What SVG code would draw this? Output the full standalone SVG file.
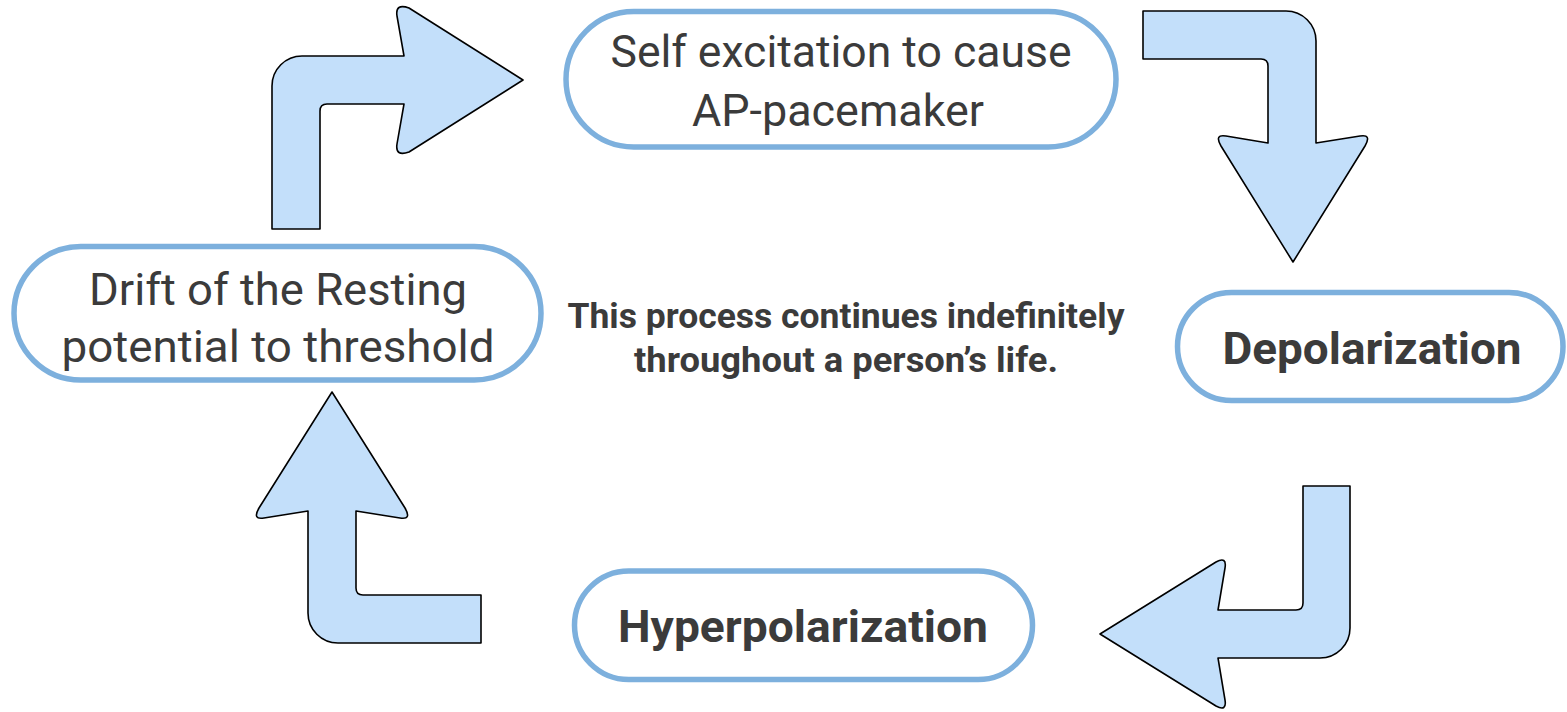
<svg xmlns="http://www.w3.org/2000/svg" width="1567" height="712" viewBox="0 0 1567 712">
<style>
.node{fill:#ffffff;stroke:#7db0dd;stroke-width:5.5}
.arrow{fill:#c3dffa;stroke:#000000;stroke-width:1.6;stroke-linejoin:round}
.lt{font-family:Roboto,"Liberation Sans",sans-serif;font-weight:400;font-size:44px;fill:#3b3b3b;text-anchor:middle}
.bd{font-family:Roboto,"Liberation Sans",sans-serif;font-weight:700;font-size:45px;fill:#3b3b3b;text-anchor:middle}
.ct{font-family:Roboto,"Liberation Sans",sans-serif;font-weight:700;font-size:35px;fill:#3b3b3b;text-anchor:middle}
</style>
<rect width="1567" height="712" fill="#ffffff"/>
<g id="connectors">
<path class="arrow" d="M272 229 L272 86 A30 30 0 0 1 302 56 L404 56 L397 16 Q395 3 409 8 L523 80 L409 152 Q395 157 397 144 L404 104 L327 104 Q320 104 320 111 L320 229 Z"/>
<path class="arrow" d="M1143 11 L1286 11 A30 30 0 0 1 1316 41 L1316 143 L1360 136 Q1372 134 1365 146 L1293 262 L1221 146 Q1214 134 1226 136 L1268 143 L1268 66 Q1268 59 1261 59 L1143 59 Z"/>
<path class="arrow" d="M1303 486 L1350 486 L1350 628 A30 30 0 0 1 1320 658 L1218 658 L1225 700 Q1227 712 1216 706 L1100 634 L1216 562 Q1227 556 1225 568 L1218 610 L1296 610 Q1303 610 1303 603 Z"/>
<path class="arrow" d="M481 643 L338 643 A30 30 0 0 1 308 613 L308 511 L264 518 Q252 520 259 508 L332 392 L405 508 Q412 520 400 518 L356 511 L356 588 Q356 595 363 595 L481 595 Z"/>
</g>
<g id="node-self-excitation">
<rect class="node" x="566" y="11.5" width="550" height="135.5" rx="67.75"/>
<text class="lt" x="841" y="67" textLength="461" lengthAdjust="spacingAndGlyphs">Self excitation to cause</text>
<text class="lt" x="838" y="126" textLength="292" lengthAdjust="spacingAndGlyphs">AP-pacemaker</text>
</g>
<g id="node-drift">
<rect class="node" x="14" y="246.5" width="527" height="133.5" rx="66.75"/>
<text class="lt" x="278" y="305" textLength="378" lengthAdjust="spacingAndGlyphs">Drift of the Resting</text>
<text class="lt" x="278" y="362" textLength="433" lengthAdjust="spacingAndGlyphs">potential to threshold</text>
</g>
<g id="node-depolarization">
<rect class="node" x="1177.5" y="292.5" width="385.5" height="108" rx="54"/>
<text class="bd" x="1372" y="364" textLength="299" lengthAdjust="spacingAndGlyphs">Depolarization</text>
</g>
<g id="node-hyperpolarization">
<rect class="node" x="574.5" y="571" width="458" height="108.5" rx="54.25"/>
<text class="bd" x="803" y="642" textLength="370" lengthAdjust="spacingAndGlyphs">Hyperpolarization</text>
</g>
<g id="center-note">
<text class="ct" x="846" y="328" textLength="557" lengthAdjust="spacingAndGlyphs">This process continues indefinitely</text>
<text class="ct" x="846" y="372" textLength="424" lengthAdjust="spacingAndGlyphs">throughout a person’s life.</text>
</g>
</svg>
